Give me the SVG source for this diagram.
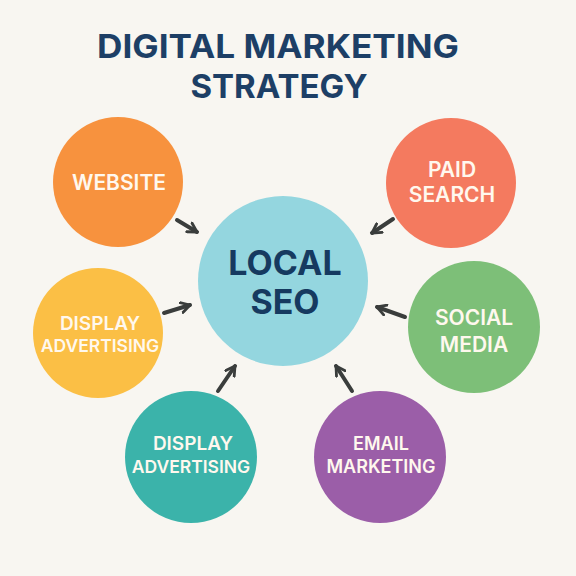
<svg xmlns="http://www.w3.org/2000/svg" width="576" height="576" viewBox="0 0 576 576">
<defs>
<marker id="ah" viewBox="0 0 10 10" refX="8" refY="5" markerWidth="3.2" markerHeight="3.2" orient="auto" markerUnits="strokeWidth">
<path d="M1,1 L8,5 L1,9" fill="none" stroke="#3a3d3c" stroke-width="2.2" stroke-linecap="round" stroke-linejoin="round"/>
</marker>
<style>
.title{font-family:Inter,"Liberation Sans",sans-serif;font-weight:700;font-size:33px;fill:#1d3f66;text-anchor:middle}
.center{font-family:Inter,"Liberation Sans",sans-serif;font-weight:700;font-size:34px;fill:#163a60;text-anchor:middle}
.lbl{font-family:Inter,"Liberation Sans",sans-serif;font-weight:600;font-size:21px;fill:#fff8ee;text-anchor:middle}
.lbls{font-family:Inter,"Liberation Sans",sans-serif;font-weight:600;font-size:19px;fill:#fff8ee;text-anchor:middle}
.lbla{font-family:Inter,"Liberation Sans",sans-serif;font-weight:600;font-size:17.5px;fill:#fff8ee;text-anchor:middle}
.lblm{font-family:Inter,"Liberation Sans",sans-serif;font-weight:600;font-size:18px;fill:#fff8ee;text-anchor:middle}
.arr{stroke:#3a3d3c;stroke-width:4;fill:none;stroke-linecap:round;marker-end:url(#ah)}
</style>
</defs>
<rect width="576" height="576" fill="#f8f6f1"/>
<g id="title">
<text class="title" x="278" y="58" textLength="362" lengthAdjust="spacingAndGlyphs">DIGITAL MARKETING</text>
<text class="title" x="279" y="98">STRATEGY</text>
</g>
<g id="connectors">
<line class="arr" x1="177" y1="220" x2="197" y2="232"/>
<line class="arr" x1="393" y1="219" x2="372" y2="233"/>
<line class="arr" x1="164" y1="313" x2="190" y2="305"/>
<line class="arr" x1="405" y1="317" x2="377" y2="307"/>
<line class="arr" x1="218" y1="391" x2="235" y2="366"/>
<line class="arr" x1="352" y1="391" x2="336" y2="366"/>
</g>
<g id="local-seo">
<circle cx="283" cy="281" r="85" fill="#94d6df"/>
<text class="center" x="285" y="275">LOCAL</text>
<text class="center" x="285" y="314">SEO</text>
</g>
<g id="website">
<circle cx="118" cy="182" r="65" fill="#f7923e"/>
<text class="lbl" x="119" y="190">WEBSITE</text>
</g>
<g id="paid-search">
<circle cx="451" cy="183" r="65" fill="#f47a5f"/>
<text class="lbl" x="452" y="177">PAID</text>
<text class="lbl" x="452" y="202">SEARCH</text>
</g>
<g id="display-advertising-1">
<circle cx="98" cy="333" r="65" fill="#fbbf45"/>
<text class="lbls" x="100" y="330">DISPLAY</text>
<text class="lbla" x="100" y="352">ADVERTISING</text>
</g>
<g id="social-media">
<circle cx="474" cy="327" r="66" fill="#7dbf78"/>
<text class="lbl" x="474" y="325">SOCIAL</text>
<text class="lbl" x="474" y="352">MEDIA</text>
</g>
<g id="display-advertising-2">
<circle cx="191" cy="457" r="66" fill="#3bb3aa"/>
<text class="lbls" x="193" y="450">DISPLAY</text>
<text class="lbla" x="191" y="473">ADVERTISING</text>
</g>
<g id="email-marketing">
<circle cx="380" cy="457" r="66" fill="#9b5ea8"/>
<text class="lblm" x="381" y="450">EMAIL</text>
<text class="lblm" x="381" y="473">MARKETING</text>
</g>
</svg>
